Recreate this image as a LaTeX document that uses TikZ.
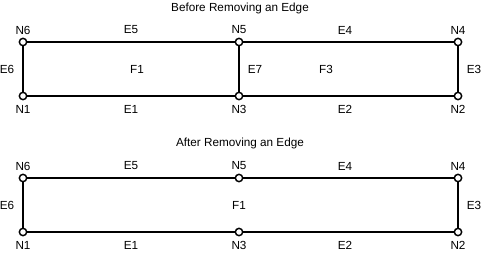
\documentclass[tikz,border=0pt]{standalone}
\usepackage{fontspec}
\setmainfont{Liberation Sans}
\begin{document}
\begin{tikzpicture}[x=0.75pt,y=-0.75pt,
  vtx/.style={circle,draw=black,fill=white,line width=1.1pt,inner sep=0pt,minimum size=5.5pt},
  edge/.style={line width=1.5pt},
  lbl/.style={font=\fontsize{8.8}{10}\selectfont,inner sep=0pt}]
\useasboundingbox (0,0) rectangle (482,253);
% top
\node[lbl] (t1) at (240,8) {Before Removing an Edge};
\coordinate (aN6) at (23,42); \coordinate (aN5) at (239,42); \coordinate (aN4) at (458,42);
\coordinate (aN1) at (23,96); \coordinate (aN3) at (239,96); \coordinate (aN2) at (458,96);
\draw[edge] (aN6) -- (aN5) -- (aN4) -- (aN2) -- (aN3) -- (aN1) -- (aN6);
\draw[edge] (aN5) -- (aN3);
\foreach \n in {aN1,aN2,aN3,aN4,aN5,aN6} \node[vtx] at (\n) {};
\node[lbl] at (23,30) {N6};
\node[lbl] at (239,30) {N5};
\node[lbl] at (458,30) {N4};
\node[lbl] at (23,109) {N1};
\node[lbl] at (239,109) {N3};
\node[lbl] at (458,109) {N2};
\node[lbl] at (131,30) {E5};
\node[lbl] at (345,30) {E4};
\node[lbl] at (131,109) {E1};
\node[lbl] at (345,109) {E2};
\node[lbl] at (7,69) {E6};
\node[lbl] at (255,69) {E7};
\node[lbl] at (474,69) {E3};
\node[lbl] at (137,69) {F1};
\node[lbl] at (326,69) {F3};
% bottom
\node[lbl] (t2) at (240,143) {After Removing an Edge};
\coordinate (bN6) at (23,178); \coordinate (bN5) at (239,178); \coordinate (bN4) at (458,178);
\coordinate (bN1) at (23,232); \coordinate (bN3) at (239,232); \coordinate (bN2) at (458,232);
\draw[edge] (bN6) -- (bN5) -- (bN4) -- (bN2) -- (bN3) -- (bN1) -- (bN6);
\foreach \n in {bN1,bN2,bN3,bN4,bN5,bN6} \node[vtx] at (\n) {};
\node[lbl] at (23,166) {N6};
\node[lbl] at (239,166) {N5};
\node[lbl] at (458,166) {N4};
\node[lbl] at (23,245) {N1};
\node[lbl] at (239,245) {N3};
\node[lbl] at (458,245) {N2};
\node[lbl] at (131,166) {E5};
\node[lbl] at (345,166) {E4};
\node[lbl] at (131,245) {E1};
\node[lbl] at (345,245) {E2};
\node[lbl] at (7,205) {E6};
\node[lbl] at (474,205) {E3};
\node[lbl] at (239,205) {F1};
\end{tikzpicture}
\end{document}
